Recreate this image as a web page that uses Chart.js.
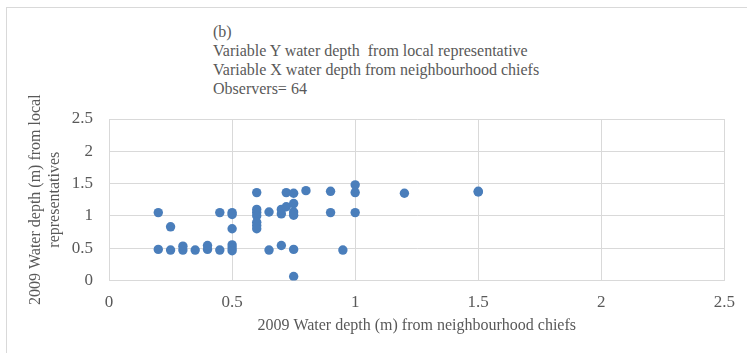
<!DOCTYPE html>
<html>
<head>
<meta charset="utf-8">
<script src="https://cdn.jsdelivr.net/npm/chart.js@4.4.1/dist/chart.umd.min.js"></script>
<style>
  body { margin: 0; background: #fff; }
  #wrap { position: relative; width: 747px; height: 353px; overflow: hidden; }
  #frame { position: absolute; left: 6px; top: 7px; width: 800px; height: 400px; border: 1px solid #d9d9d9; }
  #title { position: absolute; left: 213px; top: 22px; font: 16px "Liberation Serif", serif; line-height: 19px; color: #595959; white-space: pre; }
  canvas { position: absolute; left: 0; top: 0; }
</style>
</head>
<body>
<div id="wrap">
  <div id="frame"></div>
  <div id="title">(b)
Variable Y water depth  from local representative
Variable X water depth from neighbourhood chiefs
Observers= 64</div>
  <canvas id="scatter-chart" width="747" height="353"></canvas>
</div>
<script>
// water depth (m), one entry per observer pair
var chiefsDepth = [0.2, 0.2, 0.25, 0.25, 0.3, 0.3, 0.35, 0.4, 0.4, 0.45, 0.45,
    0.5, 0.5, 0.5, 0.5, 0.5, 0.5, 0.6, 0.6, 0.6, 0.6, 0.6, 0.6, 0.6,
    0.65, 0.65, 0.7, 0.7, 0.7, 0.72, 0.72, 0.75, 0.75, 0.75, 0.75, 0.75, 0.75,
    0.8, 0.9, 0.9, 0.95, 1.0, 1.0, 1.0, 1.2, 1.5, 1.5];
var representativesDepth = [1.05, 0.48, 0.83, 0.47, 0.47, 0.53, 0.47, 0.48, 0.54, 0.47, 1.05,
    1.05, 1.02, 0.8, 0.55, 0.5, 0.46, 1.36, 1.1, 1.05, 1.0, 0.9, 0.85, 0.8,
    1.06, 0.47, 1.1, 1.03, 0.54, 1.36, 1.14, 1.35, 1.19, 1.06, 1.01, 0.48, 0.06,
    1.39, 1.38, 1.05, 0.47, 1.48, 1.36, 1.05, 1.35, 1.37, 1.38];
var axisTicks = [0, 0.5, 1, 1.5, 2, 2.5];

var points = chiefsDepth.map(function (x, i) {
    return { x: x, y: representativesDepth[i] };
});

var gray = '#595959';
var gridColor = '#d9d9d9';

function plainTicks(axis) {
    axis.ticks = axisTicks.map(function (v) { return { value: v }; });
}
function plainLabel(value) {
    return String(value);
}

var ctx = document.getElementById('scatter-chart').getContext('2d');
var scatterChart = new Chart(ctx, {
    type: 'scatter',
    data: {
        datasets: [{
            data: points,
            backgroundColor: '#4a7ebb',
            borderColor: '#4a7ebb',
            borderWidth: 0,
            pointRadius: 4.7
        }]
    },
    options: {
        responsive: false,
        animation: false,
        layout: {
            padding: { left: 27, right: 22, top: 119, bottom: 18 }
        },
        plugins: {
            legend: { display: false },
            tooltip: { enabled: false }
        },
        scales: {
            x: {
                type: 'linear',
                min: axisTicks[0],
                max: axisTicks[axisTicks.length - 1],
                afterBuildTicks: plainTicks,
                ticks: { color: gray, padding: 12, callback: plainLabel, font: { family: 'Liberation Serif', size: 17 } },
                grid: { color: gridColor, drawTicks: false },
                border: { color: gridColor },
                title: {
                    display: true,
                    text: '2009 Water depth (m) from neighbourhood chiefs',
                    color: gray,
                    font: { family: 'Liberation Serif', size: 16 },
                    padding: { top: -9, bottom: 0 }
                }
            },
            y: {
                type: 'linear',
                min: axisTicks[0],
                max: axisTicks[axisTicks.length - 1],
                afterBuildTicks: plainTicks,
                ticks: { color: gray, padding: 16, callback: plainLabel, font: { family: 'Liberation Serif', size: 17 } },
                grid: { color: gridColor, drawTicks: false },
                border: { color: gridColor },
                title: {
                    display: true,
                    text: ['2009 Water depth (m) from local', 'representatives'],
                    color: gray,
                    font: { family: 'Liberation Serif', size: 16, lineHeight: 1.15 },
                    padding: { top: 0, bottom: -8 }
                }
            }
        }
    }
});
</script>
</body>
</html>
